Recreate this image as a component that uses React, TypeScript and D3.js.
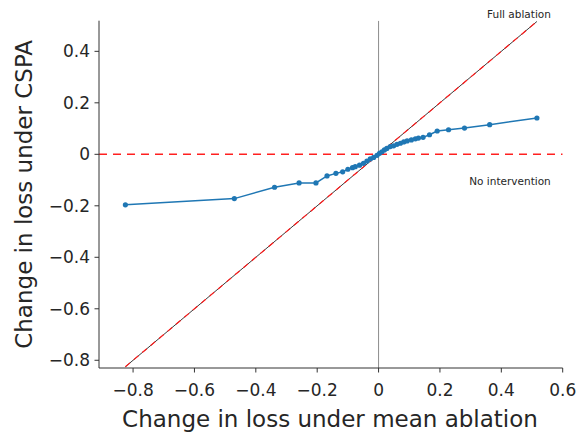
import React, { useEffect, useRef } from "react";
import * as d3 from "d3";

// change in loss under mean ablation (x) vs under CSPA (y)
const meanAblation = [
  -0.825, -0.47, -0.339, -0.259, -0.204, -0.168, -0.139, -0.117, -0.1, -0.085,
  -0.076, -0.062, -0.049, -0.038, -0.027, -0.016, -0.005, 0.003, 0.011, 0.019,
  0.027, 0.038, 0.049, 0.06, 0.071, 0.082, 0.093, 0.107, 0.12, 0.13, 0.145,
  0.166, 0.191, 0.228, 0.28, 0.362, 0.516,
];
const cspa = [
  -0.196, -0.172, -0.128, -0.111, -0.111, -0.084, -0.074, -0.068, -0.058,
  -0.052, -0.048, -0.042, -0.035, -0.026, -0.018, -0.012, -0.004, 0.004, 0.01,
  0.017, 0.023, 0.03, 0.033, 0.039, 0.043, 0.048, 0.052, 0.056, 0.06, 0.063,
  0.066, 0.076, 0.0905, 0.0955, 0.102, 0.115, 0.141,
];
const xTicks = [-0.8, -0.6, -0.4, -0.2, 0, 0.2, 0.4, 0.6];
const yTicks = [-0.8, -0.6, -0.4, -0.2, 0, 0.2, 0.4];

const W = 579;
const H = 433;
const FONT = "DejaVu Sans, sans-serif";
const TEXT = "#262626";

const fmt = (v: number) => (v === 0 ? "0" : d3.format(".1f")(v).replace("-", "\u2212"));

const App = () => {
  const ref = useRef<SVGSVGElement>(null);

  useEffect(() => {
    const svg = d3.select(ref.current);
    svg.selectAll("*").remove();

    const left = 99;
    const right = 562.7;
    const top = 20.7;
    const bottom = 368;

    const x = d3.scaleLinear().domain([-0.911, 0.6]).range([left, right]);
    const y = d3.scaleLinear().domain([-0.83, 0.519]).range([bottom, top]);

    svg.append("defs").append("clipPath").attr("id", "plot")
      .append("rect").attr("x", left).attr("y", top)
      .attr("width", right - left).attr("height", bottom - top);

    const g = svg.append("g").attr("clip-path", "url(#plot)");

    // x = 0 reference
    g.append("line")
      .attr("x1", x(0)).attr("x2", x(0)).attr("y1", top).attr("y2", bottom)
      .attr("stroke", "#8c8c8c").attr("stroke-width", 1);

    // no intervention: y = 0
    g.append("line")
      .attr("x1", left).attr("x2", right).attr("y1", y(0)).attr("y2", y(0))
      .attr("stroke", "#ff2020").attr("stroke-width", 1.4)
      .attr("stroke-dasharray", "8,6");

    // full ablation: y = x
    const ext = d3.extent(meanAblation) as [number, number];
    const diag = [ext[0], ext[1]];
    const diagLine = d3.line<number>().x((d) => x(d)).y((d) => y(d));
    g.append("path").datum(diag).attr("d", diagLine)
      .attr("stroke", "#222").attr("stroke-width", 0.9).attr("fill", "none");
    g.append("path").datum(diag).attr("d", diagLine)
      .attr("stroke", "#ff1a1a").attr("stroke-width", 1.2)
      .attr("stroke-dasharray", "6,5").attr("fill", "none");

    // data
    const pts = meanAblation.map((v, i) => [v, cspa[i]] as [number, number]);
    svg.append("path").datum(pts)
      .attr("d", d3.line().x((d) => x(d[0])).y((d) => y(d[1])))
      .attr("fill", "none").attr("stroke", "#1f77b4").attr("stroke-width", 1.5);
    svg.selectAll("circle.pt").data(pts).enter().append("circle")
      .attr("class", "pt")
      .attr("cx", (d) => x(d[0])).attr("cy", (d) => y(d[1])).attr("r", 2.6)
      .attr("fill", "#1f77b4");

    // spines
    svg.append("line").attr("x1", left).attr("x2", left).attr("y1", top).attr("y2", bottom)
      .attr("stroke", "#333").attr("stroke-width", 1);
    svg.append("line").attr("x1", left).attr("x2", right).attr("y1", bottom).attr("y2", bottom)
      .attr("stroke", "#333").attr("stroke-width", 1);

    // ticks
    const xt = svg.append("g");
    xTicks.forEach((t) => {
      xt.append("line").attr("x1", x(t)).attr("x2", x(t)).attr("y1", bottom).attr("y2", bottom + 4.5)
        .attr("stroke", "#333").attr("stroke-width", 1);
      xt.append("text").attr("x", x(t)).attr("y", bottom + 28)
        .attr("text-anchor", "middle").attr("font-family", FONT).attr("font-size", 17)
        .attr("fill", TEXT).text(fmt(t));
    });
    const yt = svg.append("g");
    yTicks.forEach((t) => {
      yt.append("line").attr("x1", left - 4.5).attr("x2", left).attr("y1", y(t)).attr("y2", y(t))
        .attr("stroke", "#333").attr("stroke-width", 1);
      yt.append("text").attr("x", left - 9).attr("y", y(t)).attr("dy", "0.36em")
        .attr("text-anchor", "end").attr("font-family", FONT).attr("font-size", 17)
        .attr("fill", TEXT).text(fmt(t));
    });

    // labels
    svg.append("text").attr("x", 330).attr("y", 427)
      .attr("text-anchor", "middle").attr("font-family", FONT).attr("font-size", 23)
      .attr("fill", TEXT).text("Change in loss under mean ablation");
    svg.append("text")
      .attr("transform", `translate(32,${(top + bottom) / 2}) rotate(-90)`)
      .attr("text-anchor", "middle").attr("font-family", FONT).attr("font-size", 23)
      .attr("fill", TEXT).text("Change in loss under CSPA");

    svg.append("text").attr("x", 519).attr("y", 18)
      .attr("text-anchor", "middle").attr("font-family", FONT).attr("font-size", 10.5)
      .attr("fill", TEXT).text("Full ablation");
    svg.append("text").attr("x", 510).attr("y", 185)
      .attr("text-anchor", "middle").attr("font-family", FONT).attr("font-size", 10.5)
      .attr("fill", TEXT).text("No intervention");
  }, []);

  return (
    <div style={{ position: "absolute", left: 0, top: 0 }}>
      <svg ref={ref} width={W} height={H} style={{ display: "block", background: "#fff" }} />
    </div>
  );
};

export default App;
